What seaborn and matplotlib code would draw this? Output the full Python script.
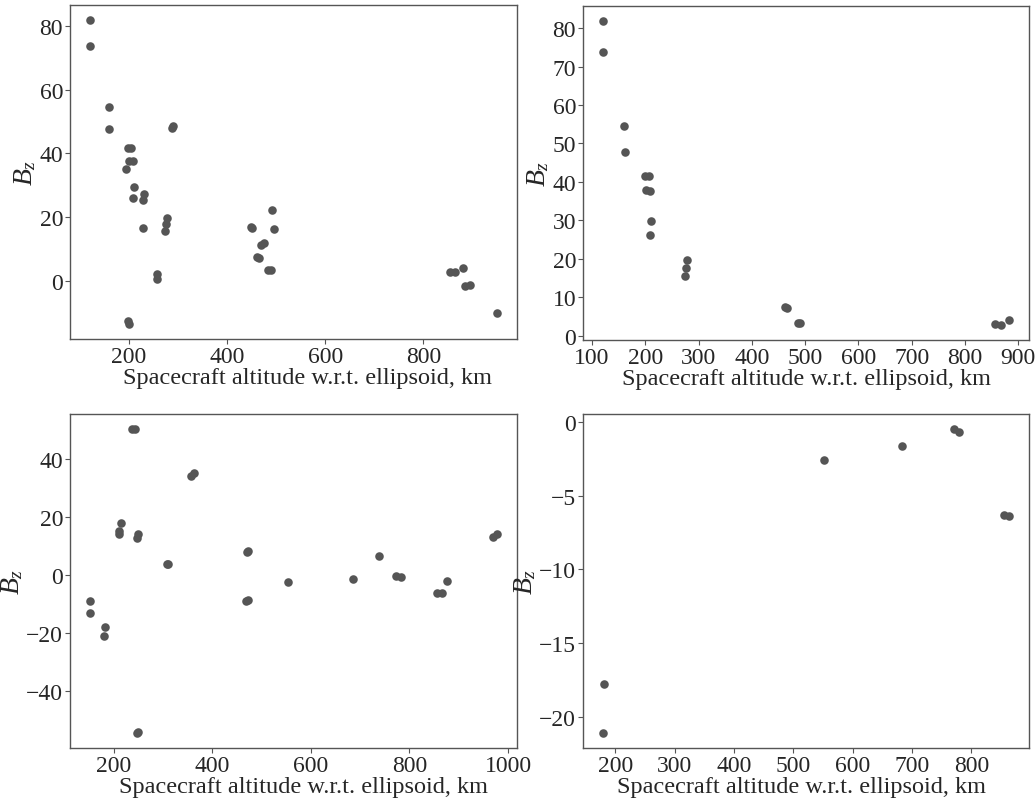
import numpy as np
import pandas as pd
import matplotlib
matplotlib.use("Agg")
import matplotlib.pyplot as plt
import seaborn as sns

# Bz versus spacecraft altitude, four data sets
alt_a = [122, 122, 160, 161, 199, 205, 200, 208, 194, 210, 208, 231, 229, 229,
         257, 257, 199, 201, 278, 277, 275, 290, 289, 448, 452, 492, 496,
         470, 476, 461, 465, 484, 490, 855, 865, 881, 884, 894, 949]
bz_a = [81.8, 73.8, 54.4, 47.7, 41.5, 41.5, 37.6, 37.6, 34.9, 29.5, 26.0, 27.1, 25.4, 16.5,
        1.9, 0.4, -12.7, -13.6, 19.7, 17.9, 15.5, 48.4, 47.9, 16.7, 16.5, 22.3, 16.1,
        11.2, 11.7, 7.5, 7.2, 3.2, 3.2, 2.7, 2.7, 4.0, -1.8, -1.3, -10.3]

alt_b = [121, 121, 160, 161, 199, 206, 201, 208, 210, 209, 279, 277, 275,
         462, 466, 486, 491, 856, 867, 882]
bz_b = [81.8, 73.8, 54.5, 47.7, 41.5, 41.5, 37.8, 37.6, 29.7, 26.1, 19.7, 17.7, 15.6,
        7.5, 7.2, 3.2, 3.2, 2.9, 2.8, 4.1]

alt_c = [152, 152, 182, 180, 237, 242, 247, 248, 356, 362, 215, 211, 211, 248, 246,
         308, 310, 470, 473, 469, 472, 553, 685, 738, 773, 782, 856, 866, 877, 969, 977]
bz_c = [-9.1, -13.3, -17.9, -21.1, 50.1, 50.0, -54.4, -54.2, 34.1, 34.9, 17.7, 15.1, 14.0, 14.1, 12.5,
        3.7, 3.6, 7.7, 8.2, -9.1, -8.7, -2.5, -1.6, 6.5, -0.5, -0.7, -6.35, -6.35, -2.0, 13.0, 13.9]

alt_d = [182, 180, 552, 683, 771, 779, 855, 863]
bz_d = [-17.8, -21.1, -2.59, -1.63, -0.50, -0.66, -6.33, -6.37]

x_ticks_a = [200, 400, 600, 800]
y_ticks_a = [0, 20, 40, 60, 80]
x_ticks_b = [100, 200, 300, 400, 500, 600, 700, 800, 900]
y_ticks_b = [0, 10, 20, 30, 40, 50, 60, 70, 80]
x_ticks_c = [200, 400, 600, 800, 1000]
y_ticks_c = [-40, -20, 0, 20, 40]
x_ticks_d = [200, 300, 400, 500, 600, 700, 800]
y_ticks_d = [-20, -15, -10, -5, 0]

x_label = "Spacecraft altitude w.r.t. ellipsoid, km"
y_label = "$B_z$"

sns.set_style("ticks")
plt.rcParams["font.family"] = ["Liberation Serif", "DejaVu Serif"]
plt.rcParams["mathtext.fontset"] = "custom"
plt.rcParams["mathtext.it"] = "Liberation Serif:italic"
plt.rcParams["mathtext.rm"] = "Liberation Serif"

W, H = 1036, 803
fig = plt.figure(figsize=(W / 100, H / 100), dpi=100)


def box(l, t, r, b):
    return [l / W, 1 - b / H, (r - l) / W, (b - t) / H]


panels = [
    (box(70, 6, 517, 340), alt_a, bz_a, x_ticks_a, y_ticks_a, 0.531),
    (box(583, 7, 1029, 341), alt_b, bz_b, x_ticks_b, y_ticks_b, 0.5),
    (box(70, 415, 517, 749), alt_c, bz_c, x_ticks_c, y_ticks_c, 0.523),
    (box(583, 415, 1029, 749), alt_d, bz_d, x_ticks_d, y_ticks_d, 0.49),
]

for rect, xs, ys, xt, yt, lx in panels:
    ax = fig.add_axes(rect)
    df = pd.DataFrame({"alt": xs, "bz": ys})
    sns.scatterplot(data=df, x="alt", y="bz", ax=ax, color="#555555",
                    s=38, linewidth=0)
    ax.set_xticks(xt)
    ax.set_yticks(yt)
    ax.set_xlabel(x_label, fontsize=17.5, labelpad=0)
    ax.xaxis.label.set_x(lx)
    ax.set_ylabel(y_label, fontsize=20, labelpad=1)
    ax.tick_params(axis="both", labelsize=17, length=3.5, width=0.8,
                   color="#555555", pad=1.5)
    for sp in ax.spines.values():
        sp.set_color("#555555")
        sp.set_linewidth(1.0)

fig.savefig("out.png", dpi=100)
